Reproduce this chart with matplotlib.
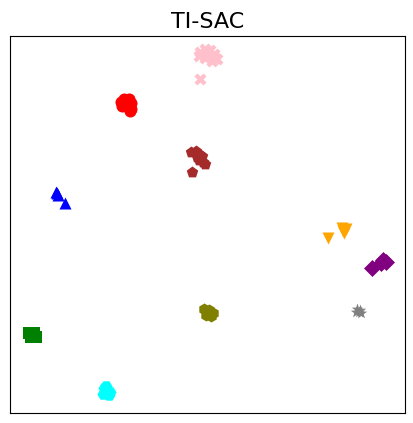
import matplotlib
matplotlib.use("Agg")
import matplotlib.pyplot as plt

# embedding coordinates per class
CLASSES = ["c0", "c1", "c2", "c3", "c4", "c5", "c6", "c7", "c8", "c9"]
COLORS = ["pink", "red", "brown", "blue", "orange", "purple",
          "olive", "gray", "green", "cyan"]
MARKERS = ["X", "o", "p", "^", "v", "D", "h", "*", "s", "H"]

X0 = [190, 195, 200, 204, 207, 202, 195, 189, 198, 205, 190]
Y0 = [361, 364, 363, 359, 354, 352, 355, 357, 358, 355, 334]
X1 = [111, 114, 119, 121, 112, 117, 121, 120]
Y1 = [311, 314, 314, 310, 307, 307, 304, 302]
X2 = [181, 186, 189, 192, 189, 193, 195, 187, 190, 182]
Y2 = [261, 262, 259, 257, 253, 251, 249, 256, 255, 241]
X3 = [46, 47, 48, 55]
Y3 = [221, 220, 218, 210]
X4 = [332, 336, 334, 333, 318]
Y4 = [185, 184, 180, 182, 175]
X5 = [373, 376, 371, 362]
Y5 = [153, 151, 150, 145]
X6 = [194, 199, 203, 196, 201]
Y6 = [104, 103, 100, 98, 97]
X7 = [347, 350, 349, 346, 351]
Y7 = [104, 103, 101, 101, 100]
X8 = [19, 24, 21, 26]
Y8 = [80, 80, 76, 76]
X9 = [94, 98, 93, 99, 96, 100]
Y9 = [25, 22, 19, 18, 27, 21]

XS = [X0, X1, X2, X3, X4, X5, X6, X7, X8, X9]
YS = [Y0, Y1, Y2, Y3, Y4, Y5, Y6, Y7, Y8, Y9]


def main():
    fig = plt.figure(figsize=(4.14, 4.23), dpi=100)
    ax = fig.add_axes([0.024, 0.024, 0.954, 0.891])
    for xs, ys, c, m in zip(XS, YS, COLORS, MARKERS):
        ax.scatter(xs, ys, c=c, marker=m, s=75, linewidths=0)
    ax.set_xlim(0, 395)
    ax.set_ylim(0, 377)
    ax.set_xticks([])
    ax.set_yticks([])
    ax.set_title("TI-SAC", fontsize=16)
    fig.savefig("out.png", dpi=100)
    plt.close(fig)


if __name__ == "__main__":
    main()
